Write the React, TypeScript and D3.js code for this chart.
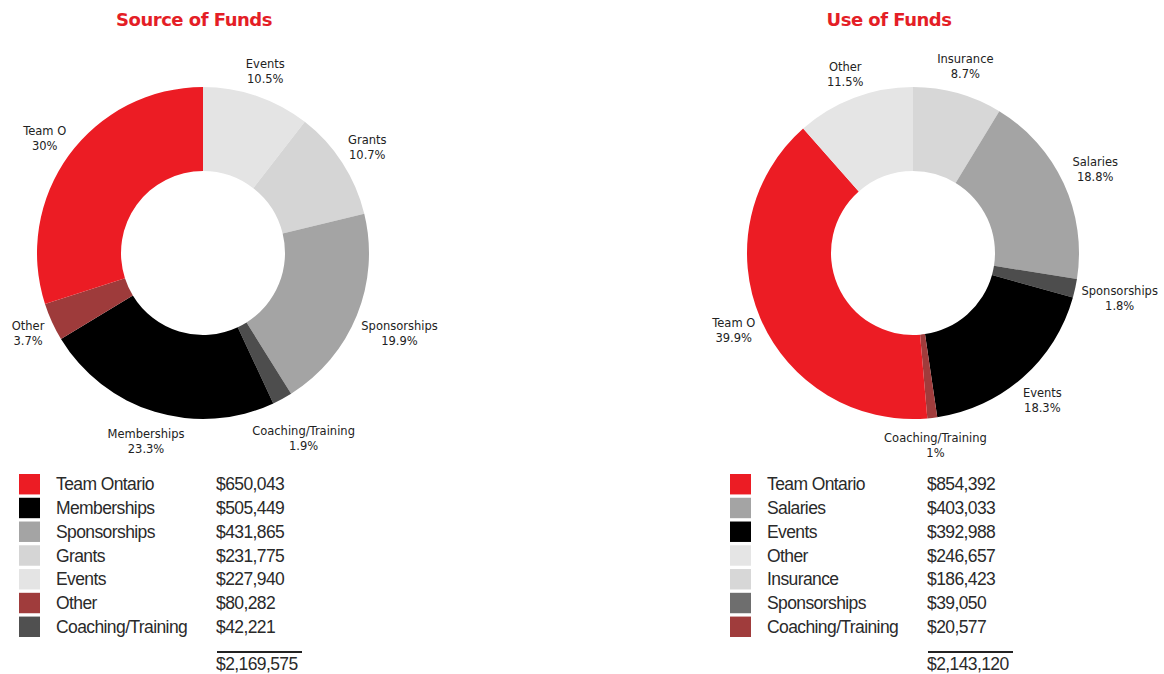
import React from "react";
import * as d3 from "d3";

// ---- Source of Funds (pie order, clockwise from 12 o'clock) ----
const sourceKeys = ["Events", "Grants", "Sponsorships", "Coaching/Training", "Memberships", "Other", "Team Ontario"];
const sourcePieLabels = ["Events", "Grants", "Sponsorships", "Coaching/Training", "Memberships", "Other", "Team O"];
const sourceValues = [227940, 231775, 431865, 42221, 505449, 80282, 650043];
const sourceColors = ["#E4E4E4", "#D5D5D5", "#A4A4A4", "#4D4D4D", "#000000", "#9E3B3B", "#EC1C24"];
const sourceLegendColors = ["#E4E4E4", "#D5D5D5", "#A4A4A4", "#505050", "#000000", "#A03C3C", "#EC1C24"];

// ---- Use of Funds (pie order, clockwise from 12 o'clock) ----
const useKeys = ["Insurance", "Salaries", "Sponsorships", "Events", "Coaching/Training", "Team Ontario", "Other"];
const usePieLabels = ["Insurance", "Salaries", "Sponsorships", "Events", "Coaching/Training", "Team O", "Other"];
const useValues = [186423, 403033, 39050, 392988, 20577, 854392, 246657];
const useColors = ["#D7D7D7", "#A4A4A4", "#4D4D4D", "#000000", "#A03C3C", "#EC1C24", "#E5E5E5"];
const useLegendColors = ["#D7D7D7", "#A4A4A4", "#6E6E6E", "#000000", "#A03C3C", "#EC1C24", "#E5E5E5"];

const titles = ["Source of Funds", "Use of Funds"];

const W = 1164;
const H = 674;
const R = 166;
const r0 = 82;
const labelFont = "'DejaVu Sans', Verdana, sans-serif";
const legendFont = "'Liberation Sans', Arial, Helvetica, sans-serif";

const pctFmt = (v: number) => {
  const s = d3.format(".1f")(v);
  return (s.endsWith(".0") ? s.slice(0, -2) : s) + "%";
};
const money = d3.format("$,");

type ChartProps = {
  keys: string[];
  pieLabels: string[];
  values: number[];
  colors: string[];
  legendColors: string[];
  title: string;
  cx: number;
  cy: number;
  titleX: number;
  legendX: number;
  legendTextX: number;
  legendValueX: number;
};

function Donut(p: ChartProps) {
  const total = d3.sum(p.values);
  const data = p.keys.map((k, i) => ({
    key: k,
    label: p.pieLabels[i],
    value: p.values[i],
    color: p.colors[i],
    legendColor: p.legendColors[i],
  }));
  const pie = d3.pie<any>().sort(null).value((d: any) => d.value).startAngle(0).endAngle(2 * Math.PI);
  const arcs = pie(data);
  const arc = d3.arc<any>().innerRadius(r0).outerRadius(R);

  const legendData = [...data].sort((a, b) => b.value - a.value);
  const rowY = d3
    .scaleBand<string>()
    .domain(legendData.map((d) => d.key))
    .range([474, 637])
    .paddingInner(0.14)
    .paddingOuter(0);

  return (
    <g>
      <text
        x={p.titleX}
        y={26}
        textAnchor="middle"
        fill="#E41E26"
        fontFamily="'DejaVu Sans', Verdana, sans-serif"
        fontWeight="bold"
        fontSize={18}
        letterSpacing={-0.5}
      >
        {p.title}
      </text>
      <g transform={`translate(${p.cx},${p.cy})`}>
        {arcs.map((a: any) => (
          <path key={a.data.key} d={arc(a) as string} fill={a.data.color} />
        ))}
        {arcs.map((a: any) => {
          const mid = (a.startAngle + a.endAngle) / 2;
          const s = Math.sin(mid);
          const c = Math.cos(mid);
          const line1 = a.data.label;
          const line2 = pctFmt((a.data.value / total) * 100);
          const halfW = (Math.max(line1.length, line2.length) * 6.2) / 2;
          const halfH = 15;
          const rr = R + 6 + halfW * Math.abs(s) + halfH * Math.abs(c);
          const x = rr * s;
          const y = -rr * c;
          return (
            <text
              key={"l" + a.data.key}
              x={x}
              y={y}
              textAnchor="middle"
              fontFamily={labelFont}
              fontSize={11.5}
              fill="#222"
            >
              <tspan x={x} dy={-3}>{line1}</tspan>
              <tspan x={x} dy={15}>{line2}</tspan>
            </text>
          );
        })}
      </g>
      {legendData.map((d) => {
        const y = rowY(d.key) as number;
        const bh = rowY.bandwidth();
        return (
          <g key={"lg" + d.key}>
            <rect x={p.legendX} y={y} width={21} height={bh} fill={d.legendColor} />
            <text
              x={p.legendTextX}
              y={y + bh / 2 + 6}
              fontFamily={legendFont}
              fontSize={17.5}
              letterSpacing={-0.6}
              fill="#2a2a2a"
            >
              {d.key}
            </text>
            <text
              x={p.legendValueX}
              y={y + bh / 2 + 6}
              fontFamily={legendFont}
              fontSize={17.5}
              letterSpacing={-0.6}
              fill="#2a2a2a"
            >
              {money(d.value)}
            </text>
          </g>
        );
      })}
      <line x1={p.legendValueX + 1} x2={p.legendValueX + 86} y1={652} y2={652} stroke="#222" strokeWidth={2} />
      <text
        x={p.legendValueX}
        y={670}
        fontFamily={legendFont}
        fontSize={17.5}
        letterSpacing={-0.6}
        fill="#2a2a2a"
      >
        {money(total)}
      </text>
    </g>
  );
}

export default function App() {
  return (
    <svg
      width={W}
      height={H}
      viewBox={`0 0 ${W} ${H}`}
      style={{ position: "absolute", left: 0, top: 0, background: "#fff" }}
    >
      <rect width={W} height={H} fill="#fff" />
      <Donut
        keys={sourceKeys}
        pieLabels={sourcePieLabels}
        values={sourceValues}
        colors={sourceColors}
        legendColors={sourceLegendColors}
        title={titles[0]}
        cx={203}
        cy={253}
        titleX={194}
        legendX={19}
        legendTextX={56}
        legendValueX={216}
      />
      <Donut
        keys={useKeys}
        pieLabels={usePieLabels}
        values={useValues}
        colors={useColors}
        legendColors={useLegendColors}
        title={titles[1]}
        cx={913}
        cy={253}
        titleX={889}
        legendX={730}
        legendTextX={767}
        legendValueX={927}
      />
    </svg>
  );
}
